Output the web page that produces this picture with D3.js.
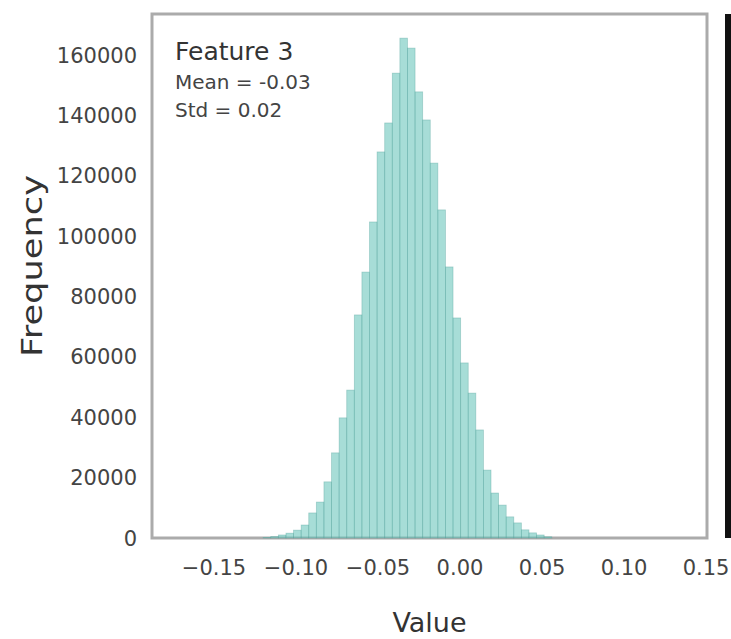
<!DOCTYPE html>
<html>
<head>
  <meta charset="UTF-8">
  <style>
body {
    margin: 0;
    padding: 0;
    background-color: white;
}
svg {
    display: block;
    font-family: "DejaVu Sans";
}
  </style>
</head>
<body>
<svg id="chart"></svg>

<script src="https://d3js.org/d3.v7.min.js"></script>
<script>

// histogram of feature 3 (counts)
const binStart = -0.12;
const binWidth = 0.00463;
const counts = [
  200, 500, 1000, 1600, 2600, 4300, 8300, 11900, 18600, 28200,
  39800, 49000, 73900, 88100, 104700, 127900, 137500, 154000, 165600, 162300,
  147800, 138500, 124200, 108700, 89800, 72900, 58000, 48000, 35800, 22500,
  14900, 10900, 7000, 5000, 2700, 1700, 1000, 400
];
const xTicks = [-0.15, -0.10, -0.05, 0.00, 0.05, 0.10, 0.15];
const yTicks = [0, 20000, 40000, 60000, 80000, 100000, 120000, 140000, 160000];
const xDomain = [-0.1878, 0.1506];
const yDomain = [0, 173600];
const titleLines = ["Feature 3", "Mean = -0.03", "Std = 0.02"];

let width = 731, height = 639;
let mLeft = 152, mRight = 707, mTop = 14, mBottom = 538;

let svg = d3.select("#chart")
    .attr("width", width)
    .attr("height", height);

let x = d3.scaleLinear().domain(xDomain).range([mLeft, mRight]);
let y = d3.scaleLinear().domain(yDomain).range([mBottom, mTop]);

// frame
svg.append("rect")
    .attr("x", mLeft)
    .attr("y", mTop)
    .attr("width", mRight - mLeft)
    .attr("height", mBottom - mTop)
    .attr("fill", "none")
    .attr("stroke", "#ababab")
    .attr("stroke-width", 3);

// neighbour panel edge, cut off at the right
svg.append("rect")
    .attr("x", 725)
    .attr("y", mTop)
    .attr("width", 10)
    .attr("height", mBottom - mTop)
    .attr("fill", "#111");

let bins = counts.map((c, i) => ({x0: binStart + i * binWidth, x1: binStart + (i + 1) * binWidth, n: c}));

svg.append("g")
  .selectAll("rect")
  .data(bins)
  .enter()
  .append("rect")
  .attr("x", d => x(d.x0))
  .attr("y", d => y(d.n))
  .attr("width", d => x(d.x1) - x(d.x0))
  .attr("height", d => y(0) - y(d.n))
  .attr("fill", "#6cc6bc")
  .attr("fill-opacity", 0.6)
  .attr("stroke", "#4a9e95")
  .attr("stroke-opacity", 0.4)
  .attr("stroke-width", 0.8);

// y tick labels
svg.append("g")
  .selectAll("text")
  .data(yTicks)
  .enter()
  .append("text")
  .attr("x", mLeft - 15)
  .attr("y", d => y(d))
  .attr("dy", "0.36em")
  .attr("text-anchor", "end")
  .attr("font-size", "21px")
  .attr("fill", "#444")
  .text(d => d);

// x tick labels
svg.append("g")
  .selectAll("text")
  .data(xTicks)
  .enter()
  .append("text")
  .attr("x", d => x(d))
  .attr("y", 575)
  .attr("text-anchor", "middle")
  .attr("font-size", "21px")
  .attr("fill", "#444")
  .text(d => d3.format(".2f")(d).replace("-", "\u2212"));

// axis titles
svg.append("text")
    .attr("x", (mLeft + mRight) / 2)
    .attr("y", 632)
    .attr("text-anchor", "middle")
    .attr("font-size", "27px")
    .attr("fill", "#333")
    .text("Value");

svg.append("text")
    .attr("transform", "translate(42, 266) rotate(-90)")
    .attr("text-anchor", "middle")
    .attr("font-size", "28px")
    .attr("fill", "#333")
    .attr("textLength", 182)
    .attr("lengthAdjust", "spacingAndGlyphs")
    .text("Frequency");

// annotation in the corner
svg.append("text")
    .attr("x", 175)
    .attr("y", 60)
    .attr("font-size", "25px")
    .attr("fill", "#333")
    .text(titleLines[0]);

svg.append("text")
    .attr("x", 175)
    .attr("y", 89)
    .attr("font-size", "20px")
    .attr("fill", "#444")
    .text(titleLines[1]);

svg.append("text")
    .attr("x", 175)
    .attr("y", 117)
    .attr("font-size", "20px")
    .attr("fill", "#444")
    .text(titleLines[2]);

</script>
</body>
</html>
